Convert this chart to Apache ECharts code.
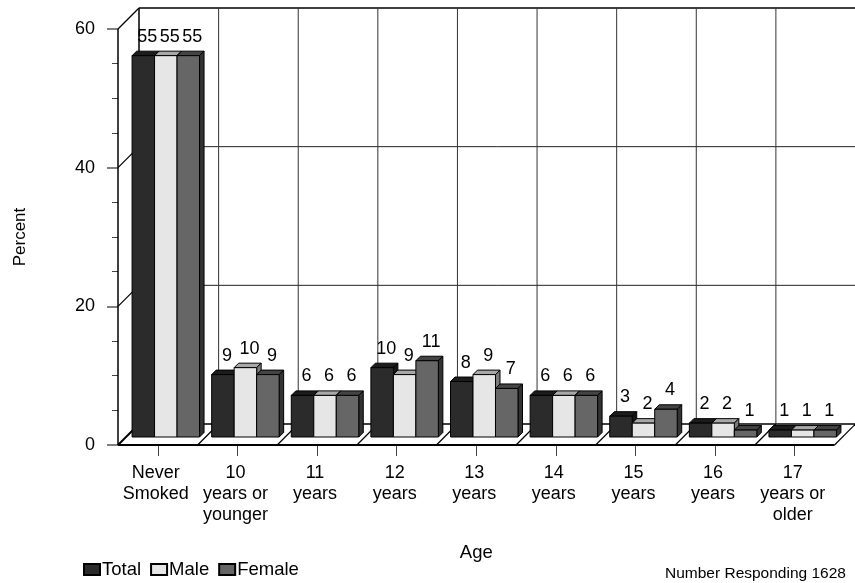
<!DOCTYPE html>
<html><head><meta charset="utf-8">
<style>html,body{margin:0;padding:0;background:#fff}#c{width:855px;height:583px}</style>
<script src="https://cdn.jsdelivr.net/npm/echarts@6/dist/echarts.min.js"></script>
</head><body><div id="c"></div>
<script>
const categories = ['Never\nSmoked','10\nyears or\nyounger','11\nyears','12\nyears','13\nyears','14\nyears','15\nyears','16\nyears','17\nyears or\nolder'];
const total  = [55,9,6,10,8,6,3,2,1];
const male   = [55,10,6,9,9,6,2,2,1];
const female = [55,9,6,11,7,6,4,1,1];
const yWallTicks = [0,20,40,60];
const FONT = '"Liberation Sans", Arial, sans-serif';
const DEPTH = 21, INSET = 8, BAR_D = 4.5;
const seriesStyle = [
  {name:'Total',  color:'#2b2b2b', top:'#1c1c1c', side:'#151515'},
  {name:'Male',   color:'#e6e6e6', top:'#a8a8a8', side:'#7a7a7a'},
  {name:'Female', color:'#666666', top:'#444444', side:'#333333'}
];
const chart = echarts.init(document.getElementById('c'), null, {renderer:'canvas'});

function line(x1,y1,x2,y2,stroke,lw){
  return {type:'line',shape:{x1,y1,x2,y2},style:{stroke,lineWidth:lw||1,fill:null},silent:true};
}
function wallRender(params, api){
  const cs = params.coordSys, kids = [];
  const left = cs.x, right = cs.x + cs.width;
  const y0 = api.coord([0,0])[1];
  yWallTicks.forEach(t=>{
    const y = api.coord([0,t])[1];
    const isTop = t===yWallTicks[yWallTicks.length-1];
    kids.push(line(left+DEPTH,y-DEPTH,right+DEPTH,y-DEPTH, (t===0||isTop)?'#000':'#222', (isTop||t===0)?1.5:1));
    if(t>0) kids.push(line(left,y,left+DEPTH,y-DEPTH,'#000',1.2));
  });
  const band = cs.width/categories.length;
  const yTop = api.coord([0,yWallTicks[yWallTicks.length-1]])[1];
  for(let i=0;i<=categories.length;i++){
    const x = left+band*i;
    kids.push(line(x+DEPTH,yTop-DEPTH,x+DEPTH,y0-DEPTH,i===0?'#000':'#333',i===0?1.5:1));
    kids.push(line(x,y0,x+DEPTH,y0-DEPTH,'#000',i===0?2:1.2));
  }
  kids.push(line(left,y0,right,y0,'#000',2));
  kids.push(line(left,yTop,left,y0,'#000',1.5));
  return {type:'group',children:kids};
}
function barRender(idx){
  const st = seriesStyle[idx];
  return function(params, api){
    const cat = api.value(0), v = api.value(1);
    const band = api.size([1,0])[0];
    const bw = band*0.2825;
    const top = api.coord([cat,v]), bot = api.coord([cat,0]);
    const xl = top[0] + INSET + (idx-1.5)*bw;
    const xr = xl + bw;
    const yt = top[1] - INSET, yb = bot[1] - INSET;
    const stroke = {stroke:'#000',lineWidth:1};
    return {type:'group',children:[
      {type:'polygon',shape:{points:[[xl,yt],[xl+BAR_D,yt-BAR_D],[xr+BAR_D,yt-BAR_D],[xr,yt]]},style:{fill:st.top,...stroke}},
      {type:'polygon',shape:{points:[[xr,yt],[xr+BAR_D,yt-BAR_D],[xr+BAR_D,yb-BAR_D],[xr,yb]]},style:{fill:st.side,...stroke}},
      {type:'rect',shape:{x:xl,y:yt,width:bw,height:yb-yt},style:{fill:st.color,...stroke}},
      {type:'text',style:{x:(xl+xr)/2+4,y:yt-10,text:String(v),fill:'#000',font:'18px '+FONT,align:'center',verticalAlign:'bottom'}}
    ]};
  };
}
const valueSets = [total,male,female];
const barSeries = seriesStyle.map((s,i)=>({
  name:s.name,type:'custom',clip:false,z:3,
  renderItem:barRender(i),
  itemStyle:{color:s.color,borderColor:'#000',borderWidth:1},
  encode:{x:0,y:1},
  data:valueSets[i].map((v,k)=>[k,v])
}));
chart.setOption({
  animation:false,
  backgroundColor:'#fff',
  textStyle:{fontFamily:FONT},
  grid:{left:118,right:20.5,top:29,bottom:138,containLabel:false},
  legend:{left:83,top:560,padding:0,itemWidth:16,itemHeight:11,itemGap:9,icon:'rect',
    selectedMode:false,data:['Total','Male','Female'],
    textStyle:{fontFamily:FONT,fontSize:18.5,color:'#000',padding:[0,0,0,-3]}},
  xAxis:{type:'category',data:categories,boundaryGap:true,name:'Age',nameLocation:'middle',nameGap:98,
    nameTextStyle:{fontFamily:FONT,fontSize:18.5,color:'#000'},
    axisLine:{show:false},
    axisTick:{show:true,length:11,alignWithLabel:true,lineStyle:{color:'#444',width:1}},
    axisLabel:{interval:0,fontFamily:FONT,fontSize:18,color:'#000',lineHeight:21,margin:18,padding:[0,4,0,0]},
    splitLine:{show:false}},
  yAxis:{type:'value',min:0,max:60,interval:20,name:'Percent',nameLocation:'middle',nameGap:89,
    nameTextStyle:{fontFamily:FONT,fontSize:17,color:'#000'},
    axisLine:{show:false},
    axisTick:{show:true,length:11,lineStyle:{color:'#555',width:1.5}},
    minorTick:{show:true,splitNumber:4,length:6,lineStyle:{color:'#444',width:1}},
    axisLabel:{fontFamily:FONT,fontSize:18,color:'#000',margin:23,padding:[4,0,0,0]},
    splitLine:{show:false}},
  graphic:[{type:'text',left:665,top:566,style:{text:'Number Responding 1628',font:'15.5px '+FONT,fill:'#000'}}],
  series:[{type:'custom',name:'wall',silent:true,clip:false,z:1,renderItem:wallRender,encode:{x:0,y:1},data:[[0,0]]},...barSeries]
});
</script></body></html>
